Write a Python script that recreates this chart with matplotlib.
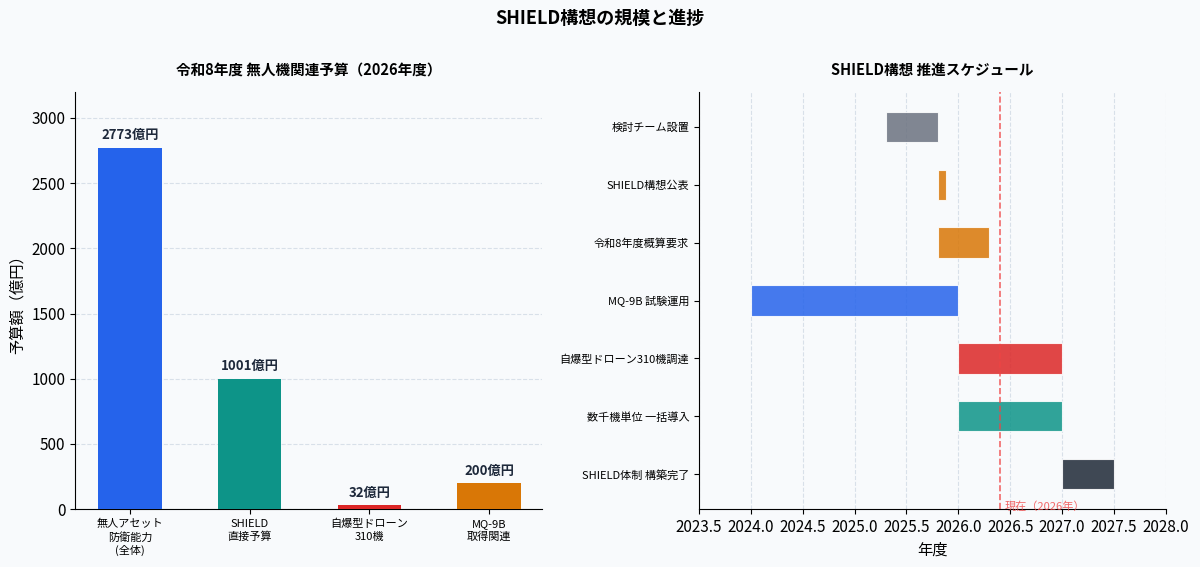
import numpy as np
import matplotlib
matplotlib.use('Agg')
import matplotlib.pyplot as plt

# budget data (億円)
budget_labels = ['無人アセット\n防衛能力\n(全体)', 'SHIELD\n直接予算', '自爆型ドローン\n310機', 'MQ-9B\n取得関連']
budget_values = [2773, 1001, 32, 200]
budget_colors = ['#2563eb', '#0d9488', '#dc2626', '#d97706']

# schedule data (年度)
tasks = ['検討チーム設置', 'SHIELD構想公表', '令和8年度概算要求', 'MQ-9B 試験運用',
         '自爆型ドローン310機調達', '数千機単位 一括導入', 'SHIELD体制 構築完了']
task_start = [2025.3, 2025.8, 2025.8, 2024.0, 2026.0, 2026.0, 2027.0]
task_dur = [0.5, 0.08, 0.5, 2.0, 1.0, 1.0, 0.5]
task_colors = ['#6b7280', '#d97706', '#d97706', '#2563eb', '#dc2626', '#0d9488', '#1f2937']
now_year = 2026.4

plt.rcParams['font.family'] = ['Noto Sans CJK JP', 'DejaVu Sans']
bg = '#f8fafc'

fig = plt.figure(figsize=(12, 5.67), dpi=100, facecolor=bg)
ax1 = fig.add_axes([0.0625, 0.102, 0.389, 0.736], facecolor=bg)
ax2 = fig.add_axes([0.5825, 0.102, 0.389, 0.736], facecolor=bg)

fig.suptitle('SHIELD構想の規模と進捗', fontsize=13, fontweight='bold', y=0.985)

# left: budget bars
x = np.arange(len(budget_values))
bars = ax1.bar(x, budget_values, width=0.53, color=budget_colors, zorder=3)
for b, v in zip(bars, budget_values):
    ax1.text(b.get_x() + b.get_width() / 2, v + 40, f'{v}億円', ha='center', va='bottom',
             fontsize=9.5, fontweight='bold', color='#1e293b')
ax1.set_xticks(x)
ax1.set_xticklabels(budget_labels, fontsize=8, linespacing=1.3)
ax1.set_xlim(-0.46, 3.44)
ax1.set_ylim(0, 3200)
ax1.set_ylabel('予算額（億円）', fontsize=11)
ax1.tick_params(axis='y', labelsize=11)
ax1.set_title('令和8年度 無人機関連予算（2026年度）', fontsize=10.5, fontweight='bold', pad=12)
ax1.grid(axis='y', linestyle='--', color='#cbd5e1', alpha=0.7, zorder=0)
for s in ['top', 'right']:
    ax1.spines[s].set_visible(False)

# right: schedule
y = np.arange(len(tasks))
ax2.barh(y, task_dur, left=task_start, height=0.52, color=task_colors, alpha=0.85,
         edgecolor='white', linewidth=0.8, zorder=3)
ax2.set_yticks(y)
ax2.set_yticklabels(tasks, fontsize=8)
ax2.set_ylim(len(tasks) - 0.4, -0.6)
ax2.set_xlim(2023.5, 2028.0)
ax2.set_xticks(np.arange(2023.5, 2028.01, 0.5))
ax2.xaxis.set_major_formatter(matplotlib.ticker.FormatStrFormatter('%.1f'))
ax2.tick_params(axis='x', labelsize=11)
ax2.set_xlabel('年度', fontsize=11)
ax2.axvline(now_year, color='#ef4444', linestyle='--', linewidth=1.2, alpha=0.8, zorder=4)
ax2.text(now_year + 0.05, len(tasks) - 0.45, '現在（2026年）', fontsize=8, color='#ef4444',
         alpha=0.8, va='center', ha='left')
ax2.set_title('SHIELD構想 推進スケジュール', fontsize=10.5, fontweight='bold', pad=12)
ax2.grid(axis='x', linestyle='--', color='#cbd5e1', alpha=0.7, zorder=0)
for s in ['top', 'right']:
    ax2.spines[s].set_visible(False)

plt.savefig('out.png', dpi=100, facecolor=bg)
plt.close()
